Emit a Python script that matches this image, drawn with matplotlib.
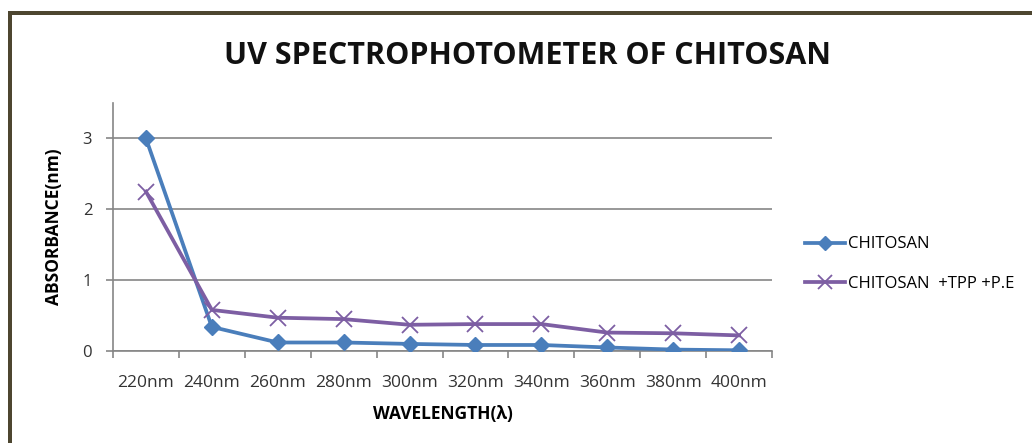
import matplotlib
matplotlib.use("Agg")
import matplotlib.pyplot as plt
from matplotlib.lines import Line2D
from matplotlib.patches import Rectangle
import numpy as np

wavelengths = ["220nm", "240nm", "260nm", "280nm", "300nm", "320nm", "340nm", "360nm", "380nm", "400nm"]
chitosan = [3.0, 0.34, 0.12, 0.12, 0.10, 0.085, 0.085, 0.05, 0.02, 0.01]
chitosan_tpp = [2.25, 0.58, 0.47, 0.45, 0.37, 0.38, 0.38, 0.26, 0.25, 0.22]
series_names = ["CHITOSAN", "CHITOSAN  +TPP +P.E"]

plt.rcParams['font.family'] = ['Open Sans', 'DejaVu Sans']

W, H = 1032, 443
fig = plt.figure(figsize=(W / 100, H / 100), dpi=100)
fig.patch.set_facecolor("white")

# frame border (top & left)
fig.add_artist(Rectangle((8 / W, 0), 4 / W, 1 - 12 / H, transform=fig.transFigure,
                         facecolor="#4d4630", edgecolor="none"))
fig.add_artist(Rectangle((8 / W, 1 - 15 / H), 1, 4 / H, transform=fig.transFigure,
                         facecolor="#4d4630", edgecolor="none"))

ax = fig.add_axes([113 / W, 1 - 351 / H, (772 - 113) / W, (351 - 103) / H])
x = np.arange(len(wavelengths))
blue = "#4a7ebb"
purple = "#7d5ea3"
ax.plot(x, chitosan, color=blue, lw=2.7, marker="D", ms=8, mfc=blue, mec=blue, zorder=3)
ax.plot(x, chitosan_tpp, color=purple, lw=2.7, marker="x", ms=11, mew=1.3, mec=purple, zorder=3)

ax.set_xlim(-0.5, len(wavelengths) - 0.5)
ax.set_ylim(0, 3.5)
ax.set_yticks([0, 1, 2, 3])
ax.set_yticklabels(["0", "1", "2", "3"], fontsize=12, color="#333333")
ax.set_xticks(np.arange(-0.5, len(wavelengths), 1.0))
ax.set_xticklabels([])
ax.set_xticks(x, minor=True)
ax.set_xticklabels(wavelengths, minor=True, fontsize=12.5, color="#333333")
ax.tick_params(axis="x", which="minor", length=0, pad=17)
ax.tick_params(axis="x", which="major", length=5, color="#868686", width=1.2, direction="out")
ax.tick_params(axis="y", length=5, color="#868686", width=1.2, direction="out", pad=10)
ax.grid(axis="y", color="#868686", lw=1.2)
ax.set_axisbelow(True)
for s in ["top", "right"]:
    ax.spines[s].set_visible(False)
for s in ["left", "bottom"]:
    ax.spines[s].set_color("#868686")
    ax.spines[s].set_linewidth(1.2)

ax.set_xlabel("WAVELENGTH(λ)", fontsize=12.5, fontweight="bold", labelpad=10)
ax.set_ylabel("ABSORBANCE(nm)", fontsize=12.5, fontweight="bold", labelpad=14)

fig.text(528 / W, 1 - 56 / H, "UV SPECTROPHOTOMETER OF CHITOSAN", ha="center", va="center",
         fontsize=22, fontweight="bold", color="#111111")

handles = [Line2D([0], [0], color=blue, lw=2.7, marker="D", ms=7),
           Line2D([0], [0], color=purple, lw=2.7, marker="x", ms=10, mew=1.3)]
fig.legend(handles, series_names, loc="center left", bbox_to_anchor=(790 / W, 1 - 264 / H),
           frameon=False, fontsize=12, handlelength=2.4, handletextpad=0.2, labelspacing=1.4)

fig.savefig("out.png", dpi=100)
